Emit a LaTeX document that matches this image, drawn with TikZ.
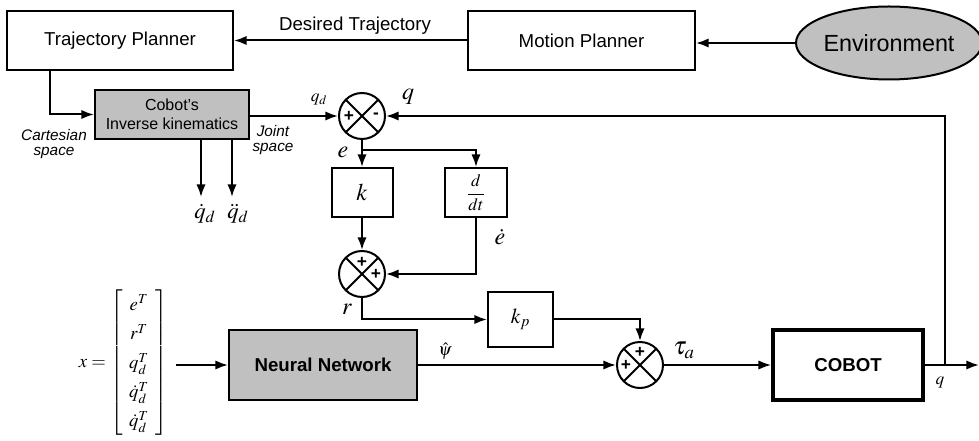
\documentclass[tikz,border=0pt]{standalone}
\usepackage{mathptmx}
\usepackage[no-math]{fontspec}
\setmainfont{Liberation Sans}
\usetikzlibrary{arrows.meta,shapes.geometric,calc}
\definecolor{boxgray}{HTML}{C0C0C0}
\newcommand{\fsz}[1]{\fontsize{#1}{#1}\selectfont}
\begin{document}
\begin{tikzpicture}[x=0.75pt,y=-0.75pt,
  box/.style={draw,line width=1.5pt,inner sep=0pt,align=center},
  gbox/.style={box,fill=boxgray},
  sumj/.style={circle,draw,line width=1.5pt,minimum size=34.5pt,inner sep=0pt,
    path picture={\draw[line width=1.5pt] (path picture bounding box.north west)--(path picture bounding box.south east)
      (path picture bounding box.north east)--(path picture bounding box.south west);}},
  arr/.style={line width=1.5pt,-{Latex[length=9.5pt,width=7pt]}},
  sgn/.style={font=\fsz{13}\bfseries,inner sep=0pt},
  lab/.style={inner sep=0pt},
  ]
\useasboundingbox (0,0) rectangle (979,441);

% blocks
\node[box,minimum width=169.5pt,minimum height=44.25pt,font=\fsz{14}] (tp) at (120,40.5) {Trajectory Planner};
\node[box,minimum width=170.25pt,minimum height=44.25pt,font=\fsz{14}] (mp) at (581.5,40.5) {Motion Planner};
\node[ellipse,draw,fill=boxgray,line width=1.5pt,minimum width=139.5pt,minimum height=54.75pt,inner sep=0pt,font=\fsz{17.5}] (env) at (889,43) {Environment};
\node[gbox,minimum width=115.5pt,minimum height=36.75pt,font=\fontsize{12}{14}\selectfont] (ik) at (172,114.5) {Cobot's\\Inverse kinematics};
\node[sumj] (s1) at (362,116) {};
\node[box,minimum width=45.75pt,minimum height=36.75pt,font=\fsz{18}] (k) at (362,192.5) {$k$};
\node[box,minimum width=46.5pt,minimum height=36.75pt,font=\fsz{13}] (dd) at (476,192.5) {$\displaystyle\frac{d}{dt}$};
\node[sumj] (s2) at (362,274) {};
\node[box,minimum width=48.75pt,minimum height=41.25pt,font=\fsz{16}] (kp) at (520.5,319.5) {$k_p$};
\node[gbox,minimum width=141pt,minimum height=52.5pt,font=\fsz{14}\bfseries] (nn) at (323,365) {Neural Network};
\node[sumj] (s3) at (640,365) {};
\node[box,line width=2.8pt,minimum width=112.5pt,minimum height=52.5pt,font=\fsz{14}\bfseries] (cobot) at (848,365) {COBOT};
\node[lab,anchor=east,font=\fontsize{14}{16}\selectfont] (mx) at (168,363)
  {\renewcommand{\arraystretch}{1.36}$x=\left[\begin{array}{c} e^T\\ r^T\\ q_d^T\\ \dot q_d^T\\ \dot q_d^T\end{array}\right]$};

% signs
\node[sgn] (s1a) at ([xshift=-9.75pt]s1.center) {+};
\node[sgn] (s1b) at ([xshift=10.5pt]s1.center) {-};
\node[sgn] (s2a) at ([yshift=9pt]s2.center) {+};
\node[sgn] (s2b) at ([xshift=10.5pt]s2.center) {+};
\node[sgn] (s3a) at ([yshift=9.5pt]s3.center) {+};
\node[sgn] (s3b) at ([xshift=-10.5pt]s3.center) {+};

% labels
\node[lab,font=\fsz{14}] (dtlab) at (355,26) {Desired Trajectory};
\node[lab,font=\fontsize{11.5}{11.5}\selectfont\itshape,align=center] (cart) at (54,144) {Cartesian\\space};
\node[lab,font=\fontsize{11.5}{11}\selectfont\itshape,align=center] (joint) at (273,140) {Joint\\space};
\node[lab,font=\fsz{13}] (lqd) at (319,100) {$q_d$};
\node[lab,font=\fsz{18}] (lq1) at (408,97) {$q$};
\node[lab,font=\fsz{18}] (le) at (343,152) {$e$};
\node[lab,font=\fsz{18}] (led) at (500,237) {$\dot e$};
\node[lab,font=\fsz{18}] (lr) at (347,309) {$r$};
\node[lab,font=\fsz{13}] (lpsi) at (445,351) {$\hat\psi$};
\node[lab,font=\fsz{19}] (ltau) at (684,350) {$\tau_a$};
\node[lab,font=\fsz{13}] (lq2) at (940,383) {$q$};
\node[lab,font=\fsz{17}] (lqd1) at (205,214) {$\dot q_d$};
\node[lab,font=\fsz{17}] (lqd2) at (238,214) {$\ddot q_d$};

% coordinates
\coordinate (j1) at (362,150);
\coordinate (j2) at (945,365);
\coordinate (out) at (979,365);
\coordinate (qd1) at (201,197);
\coordinate (qd2) at (232,197);
\coordinate (tpd) at (50,70);

% connectors
\draw[arr] (env.west) -- (env.west -| mp.east);
\draw[arr] (mp.west) -- (mp.west -| tp.east);
\draw[arr] (tpd) |- (ik.west);
\draw[arr] (s1.west -| ik.east) -- (s1.west);
\draw[arr] (qd1 |- ik.south) -- (qd1);
\draw[arr] (qd2 |- ik.south) -- (qd2);
\draw[arr] (s1.south) -- (k.north);
\draw[arr] (j1) -| (dd.north);
\draw[arr] (k.south) -- (s2.north);
\draw[arr] (dd.south) |- (s2.east);
\draw[arr] (s2.south) |- (kp.west);
\draw[arr] (kp.east) -| (s3.north);
\draw[arr] ([xshift=6pt]mx.east |- nn.west) -- (nn.west);
\draw[arr] (nn.east) -- (s3.west);
\draw[arr] (s3.east) -- (cobot.west);
\draw[arr] (cobot.east) -- (out);
\draw[arr] (j2) |- (s1.east);
\end{tikzpicture}
\end{document}
